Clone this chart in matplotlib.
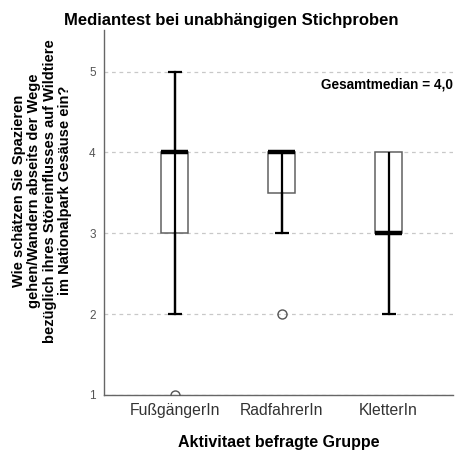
import matplotlib
matplotlib.use("Agg")
from matplotlib import pyplot as plt

plt.rcParams['font.family'] = ['Liberation Sans', 'DejaVu Sans']

groups = ["FußgängerIn", "RadfahrerIn", "KletterIn"]
q1 = [3.0, 3.5, 3.0]
med = [4.0, 4.0, 3.0]
q3 = [4.0, 4.0, 4.0]
wlo = [2.0, 3.0, 2.0]
whi = [5.0, 4.0, 4.0]
outliers = [[1.0], [2.0], []]
gesamtmedian = 4.0

stats = []
for i, g in enumerate(groups):
    stats.append(dict(label=g, q1=q1[i], med=med[i], q3=q3[i],
                      whislo=wlo[i], whishi=whi[i], fliers=outliers[i]))
pos = [1, 2, 3]

fig = plt.figure(figsize=(4.56, 4.54), dpi=100)
ax = fig.add_axes([0.228, 0.130, 0.765, 0.805])

ax.yaxis.grid(True, linestyle=(0, (3, 3)), color='#c8c8c8', lw=0.9)
ax.set_axisbelow(True)

ax.bxp(stats, positions=pos, widths=0.25, showcaps=False, patch_artist=True,
       boxprops=dict(facecolor='white', edgecolor='#606060', lw=1.1),
       medianprops=dict(color='black', lw=3.2),
       whiskerprops=dict(color='black', lw=1.6),
       flierprops=dict(marker='o', markersize=6.5, markerfacecolor='none',
                       markeredgecolor='#555555', markeredgewidth=1.0),
       zorder=3)
# line from min to max runs through the box, as in SPSS
ax.vlines(pos, wlo, whi, color='black', lw=1.6, zorder=4)
# caps only where the whisker sticks out of the box
for i, p in enumerate(pos):
    if wlo[i] < q1[i]:
        ax.hlines(wlo[i], p - 0.065, p + 0.065, color='black', lw=1.6, zorder=4)
    if whi[i] > q3[i]:
        ax.hlines(whi[i], p - 0.065, p + 0.065, color='black', lw=1.6, zorder=4)

ax.set_xlim(0.34, 3.6)
ax.set_ylim(1, 5.52)
ax.set_yticks([1, 2, 3, 4, 5])
ax.set_yticklabels(['1', '2', '3', '4', '5'])
ax.tick_params(axis='y', length=0, labelsize=8.5, labelcolor='#555555', pad=6)
ax.tick_params(axis='x', length=0, labelsize=11.3, labelcolor='#333333', pad=6)
ax.set_xticks(pos)
ax.set_xticklabels(groups)

for s in ['top', 'right']:
    ax.spines[s].set_visible(False)
for s in ['left', 'bottom']:
    ax.spines[s].set_color('#666666')
    ax.spines[s].set_linewidth(1.0)

ax.text(3.6, 4.84, "Gesamtmedian = %s" % ("%.1f" % gesamtmedian).replace('.', ','),
        ha='right', va='center', fontsize=9.8, fontweight='bold')

fig.text(0.507, 0.954, "Mediantest bei unabhängigen Stichproben",
         ha='center', va='center', fontsize=12, fontweight='bold')
ax.set_xlabel("Aktivitaet befragte Gruppe", fontsize=11.5, fontweight='bold', labelpad=12)
fig.text(0.092, 0.58,
         "Wie schätzen Sie Spazieren\ngehen/Wandern abseits der Wege\n"
         "bezüglich ihres Störeinflusses auf Wildtiere\nim Nationalpark Gesäuse ein?",
         rotation=90, ha='center', va='center', multialignment='center',
         fontsize=10.5, fontweight='bold', linespacing=1.1)

fig.savefig("out.png", dpi=100)
